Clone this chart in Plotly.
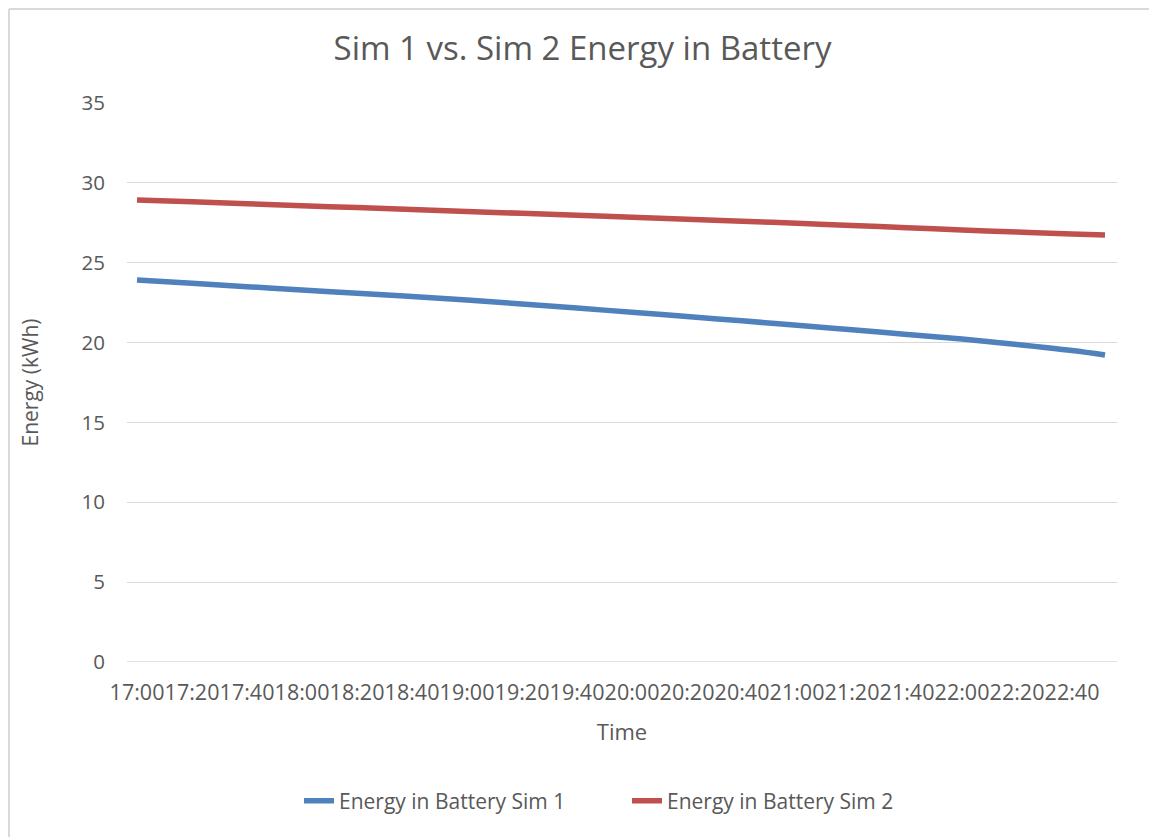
import plotly.graph_objects as go

# ---- data ----
times = ["17:00", "17:20", "17:40", "18:00", "18:20", "18:40", "19:00", "19:20", "19:40",
         "20:00", "20:20", "20:40", "21:00", "21:20", "21:40", "22:00", "22:20", "22:40", "22:52"]
sim1 = [23.92, 23.71, 23.50, 23.29, 23.09, 22.89, 22.66, 22.42, 22.16,
        21.90, 21.63, 21.36, 21.08, 20.80, 20.51, 20.22, 19.88, 19.50, 19.22]
sim2 = [28.93, 28.81, 28.69, 28.57, 28.45, 28.33, 28.21, 28.09, 27.97,
        27.85, 27.72, 27.60, 27.47, 27.33, 27.19, 27.05, 26.92, 26.80, 26.74]
tick_labels = ["17:00", "17:20", "17:40", "18:00", "18:20", "18:40", "19:00", "19:20", "19:40",
               "20:00", "20:20", "20:40", "21:00", "21:20", "21:40", "22:00", "22:20", "22:40"]
y_ticks = [0, 5, 10, 15, 20, 25, 30, 35]


def to_min(t):
    h, m = t.split(":")
    return (int(h) - 17) * 60 + int(m)


x_min = [to_min(t) for t in times]
tick_min = [to_min(t) for t in tick_labels]

FONT = "Open Sans"
TXT = "#595959"

# the page body has an 8px margin, so the figure is laid out 8px smaller
W, H = 1149, 829
L, R, T, B = 119, 40, 95, 175
PW, PH = W - L - R, H - T - B

fig = go.Figure()
fig.add_trace(go.Scatter(x=x_min, y=sim1, mode="lines", name="Energy in Battery Sim 1",
                         line=dict(color="#4f81bd", width=5.5), line_shape="spline"))
fig.add_trace(go.Scatter(x=x_min, y=sim2, mode="lines", name="Energy in Battery Sim 2",
                         line=dict(color="#c0504d", width=5.5), line_shape="spline"))

fig.update_layout(
    width=W, height=H,
    paper_bgcolor="white", plot_bgcolor="white",
    margin=dict(l=L, r=R, t=T, b=B, autoexpand=False),
    font=dict(family=FONT, color=TXT, size=20),
    title=dict(text="Sim 1 vs. Sim 2 Energy in Battery", x=0.5, xanchor="center",
               y=1 - 40 / H, yanchor="middle",
               font=dict(family=FONT, size=33, color=TXT)),
    showlegend=True,
    legend=dict(orientation="h", xref="container", yref="container",
                x=619 / W, xanchor="center", y=1 - 793 / H, yanchor="middle",
                font=dict(family=FONT, size=21, color=TXT),
                entrywidth=283, entrywidthmode="pixels"),
    xaxis=dict(
        range=[-3.64, 356.36], automargin=False,
        tickmode="array", tickvals=tick_min, ticktext=tick_labels,
        tickangle=0, showgrid=False, zeroline=False,
        showline=False, ticks="",
        ticklabelstandoff=15,
        tickfont=dict(family=FONT, size=21.5, color=TXT),
        title=dict(text="Time", font=dict(family=FONT, size=22, color=TXT), standoff=20),
    ),
    yaxis=dict(
        range=[0, 35], tickmode="array", tickvals=y_ticks, automargin=False,
        showgrid=True, gridcolor="#d9d9d9", gridwidth=1.3,
        zeroline=False, showline=False, ticks="",
        ticklabelstandoff=21,
        tickfont=dict(family=FONT, size=20.5, color=TXT),
        title=dict(text="Energy (kWh)", font=dict(family=FONT, size=21, color=TXT), standoff=37),
    ),
)
# chart border (left and top edges)
fig.add_shape(type="line", xref="paper", yref="paper",
              x0=(1 - L) / PW, x1=(1 - L) / PW,
              y0=-B / PH, y1=(PH + T - 1) / PH,
              line=dict(color="#d9d9d9", width=2))
fig.add_shape(type="line", xref="paper", yref="paper",
              x0=(1 - L) / PW, x1=(W - L) / PW,
              y0=(PH + T - 1) / PH, y1=(PH + T - 1) / PH,
              line=dict(color="#d9d9d9", width=2))
# zero baseline (gridline at 0)
fig.add_shape(type="line", xref="paper", yref="y", x0=0, x1=1, y0=0, y1=0,
              line=dict(color="#d9d9d9", width=1.3), layer="below")

fig.write_html("out.html")
